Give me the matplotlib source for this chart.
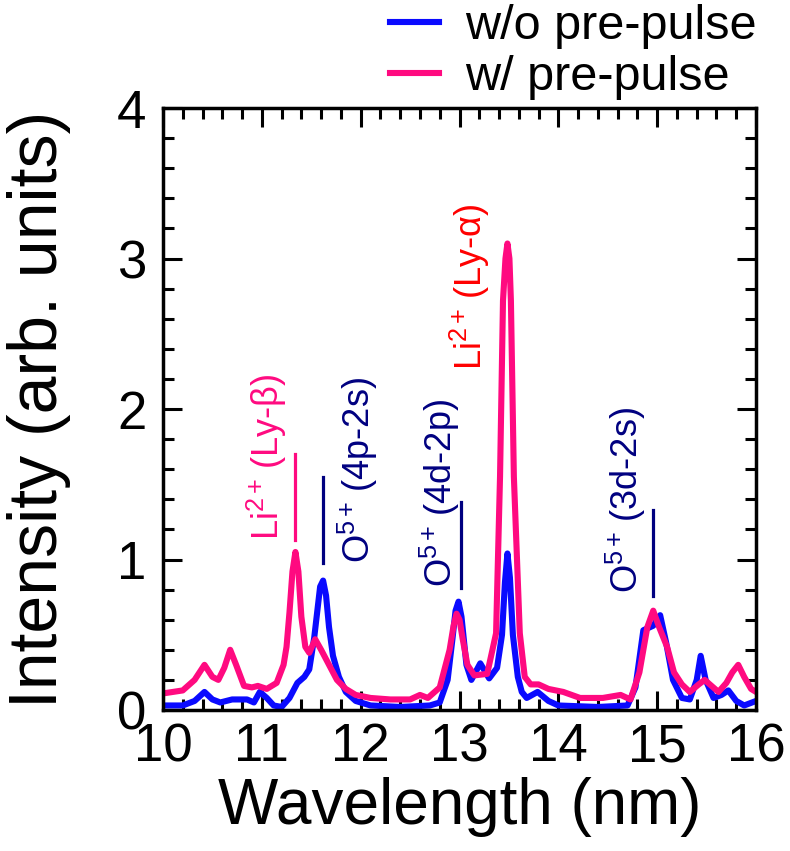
import numpy as np
import matplotlib
matplotlib.use('Agg')
import matplotlib.pyplot as plt

plt.rc('font', family=['Liberation Sans', 'DejaVu Sans'], size=38)
plt.rc('mathtext', fontset='custom', rm='Liberation Sans', it='Liberation Sans', bf='Liberation Sans')
plt.rc('axes', linewidth=2.5)
plt.rc(('xtick.major', 'ytick.major'), size=14, width=2.2)
plt.rc(('xtick.minor', 'ytick.minor'), size=8, width=2.2)

# spectra (wavelength nm, intensity arb. units)
wl_wo = [10.00, 10.20, 10.32, 10.42, 10.50, 10.58, 10.70, 10.85, 10.92, 10.98,
         11.05, 11.12, 11.20, 11.28, 11.36, 11.43, 11.48, 11.53, 11.56, 11.59,
         11.62, 11.65, 11.68, 11.72, 11.78, 11.85, 11.95, 12.10, 12.40, 12.70,
         12.80, 12.88, 12.93, 12.96, 12.99, 13.02, 13.07, 13.12, 13.21, 13.30,
         13.38, 13.43, 13.46, 13.485, 13.51, 13.54, 13.59, 13.63, 13.68, 13.79,
         13.90, 14.00, 14.40, 14.70, 14.78, 14.86, 14.96, 15.03, 15.09, 15.16,
         15.25, 15.33, 15.40, 15.44, 15.49, 15.57, 15.65, 15.72, 15.80, 15.88,
         16.00]
int_wo = [0.03, 0.03, 0.06, 0.12, 0.07, 0.05, 0.07, 0.07, 0.05, 0.12,
          0.08, 0.03, 0.02, 0.08, 0.18, 0.22, 0.27, 0.48, 0.65, 0.82,
          0.86, 0.76, 0.55, 0.36, 0.22, 0.12, 0.06, 0.03, 0.02, 0.03,
          0.05, 0.20, 0.48, 0.66, 0.72, 0.62, 0.30, 0.20, 0.31, 0.21,
          0.28, 0.50, 0.85, 1.04, 0.88, 0.50, 0.22, 0.12, 0.08, 0.12,
          0.06, 0.03, 0.02, 0.03, 0.15, 0.53, 0.56, 0.63, 0.45, 0.20,
          0.08, 0.07, 0.20, 0.36, 0.20, 0.08, 0.10, 0.13, 0.06, 0.03,
          0.06]

wl_w = [10.00, 10.20, 10.32, 10.42, 10.50, 10.56, 10.62, 10.68, 10.74, 10.82,
        10.90, 10.96, 11.05, 11.15, 11.22, 11.25, 11.28, 11.31, 11.34, 11.37,
        11.40, 11.44, 11.48, 11.54, 11.60, 11.68, 11.76, 11.85, 11.95, 12.10,
        12.30, 12.50, 12.60, 12.68, 12.80, 12.90, 12.94, 12.97, 13.00, 13.03,
        13.08, 13.15, 13.28, 13.37, 13.41, 13.44, 13.465, 13.485, 13.505, 13.52,
        13.55, 13.61, 13.66, 13.72, 13.80, 13.90, 14.05, 14.22, 14.45, 14.63,
        14.73, 14.82, 14.90, 14.96, 15.02, 15.10, 15.17, 15.25, 15.33, 15.42,
        15.48, 15.55, 15.62, 15.70, 15.76, 15.82, 15.88, 15.95, 16.00]
int_w = [0.11, 0.13, 0.20, 0.30, 0.22, 0.20, 0.28, 0.40, 0.30, 0.16,
         0.15, 0.16, 0.14, 0.18, 0.30, 0.42, 0.65, 0.92, 1.05, 0.92,
         0.62, 0.42, 0.38, 0.47, 0.40, 0.30, 0.20, 0.14, 0.10, 0.08,
         0.07, 0.07, 0.10, 0.08, 0.15, 0.40, 0.56, 0.64, 0.60, 0.48,
         0.30, 0.23, 0.24, 0.51, 1.55, 2.72, 3.00, 3.10, 3.00, 2.72,
         1.55, 0.51, 0.22, 0.17, 0.17, 0.14, 0.12, 0.08, 0.08, 0.10,
         0.07, 0.25, 0.55, 0.66, 0.55, 0.42, 0.25, 0.17, 0.12, 0.17,
         0.20, 0.16, 0.12, 0.18, 0.25, 0.30, 0.22, 0.14, 0.12]

# line identifications: label, text x, text bottom y, marker x, marker y0, y1, colour
labels = ['Li$^{2+}\\,$(Ly-β)', 'O$^{5+}\\,$(4p-2s)', 'O$^{5+}\\,$(4d-2p)',
          'Li$^{2+}\\,$(Ly-α)', 'O$^{5+}\\,$(3d-2s)']
label_x = [11.05, 11.97, 12.80, 13.11, 14.68]
label_y = [1.13, 0.98, 0.82, 2.26, 0.78]
mark_x = [11.34, 11.62, 13.02, None, 14.96]
mark_y0 = [1.13, 0.98, 0.81, None, 0.76]
mark_y1 = [1.70, 1.55, 1.38, None, 1.33]
label_col = ['#ff0a80', '#000080', '#000080', '#ff0000', '#000080']

fig = plt.figure(figsize=(7.9, 8.51), dpi=100)
ax = fig.add_axes((0.2063, 0.1657, 0.957 - 0.2063, 0.873 - 0.1657))

ax.plot(wl_wo, int_wo, color='#0a0aff', lw=4.4, label='w/o pre-pulse', solid_joinstyle='round')
ax.plot(wl_w, int_w, color='#ff0a80', lw=4.4, label='w/ pre-pulse', solid_joinstyle='round')

for i in range(len(labels)):
    ax.text(label_x[i], label_y[i], labels[i], rotation=90, ha='center', va='bottom',
            color=label_col[i], fontsize=26)
    if mark_x[i] is not None:
        ax.plot([mark_x[i], mark_x[i]], [mark_y0[i], mark_y1[i]], color=label_col[i], lw=2.3)

ax.set_xlim(10, 16)
ax.set_ylim(0, 4)
ax.set_xticks(np.arange(10, 16.1, 1))
ax.set_xticks(np.arange(10, 16.01, 0.2), minor=True)
ax.set_yticks(np.arange(0, 4.1, 1))
ax.set_yticks(np.arange(0, 4.01, 0.2), minor=True)
ax.tick_params(which='both', direction='in', top=True, right=True)
ax.tick_params(axis='x', pad=9)
ax.tick_params(axis='y', pad=12)

ax.set_xlabel('Wavelength (nm)', fontsize=46)
ax.set_ylabel('Intensity (arb. units)', fontsize=49)
ax.xaxis.set_label_coords(0.5, -0.112)
ax.yaxis.set_label_coords(-0.155, 0.5)

ax.legend(loc='lower right', bbox_to_anchor=(1.01, 1.005), frameon=False, borderaxespad=0,
          borderpad=0.1, handlelength=1.0, handletextpad=0.55, labelspacing=0.12, fontsize=35)

plt.savefig('out.png', dpi=100)
